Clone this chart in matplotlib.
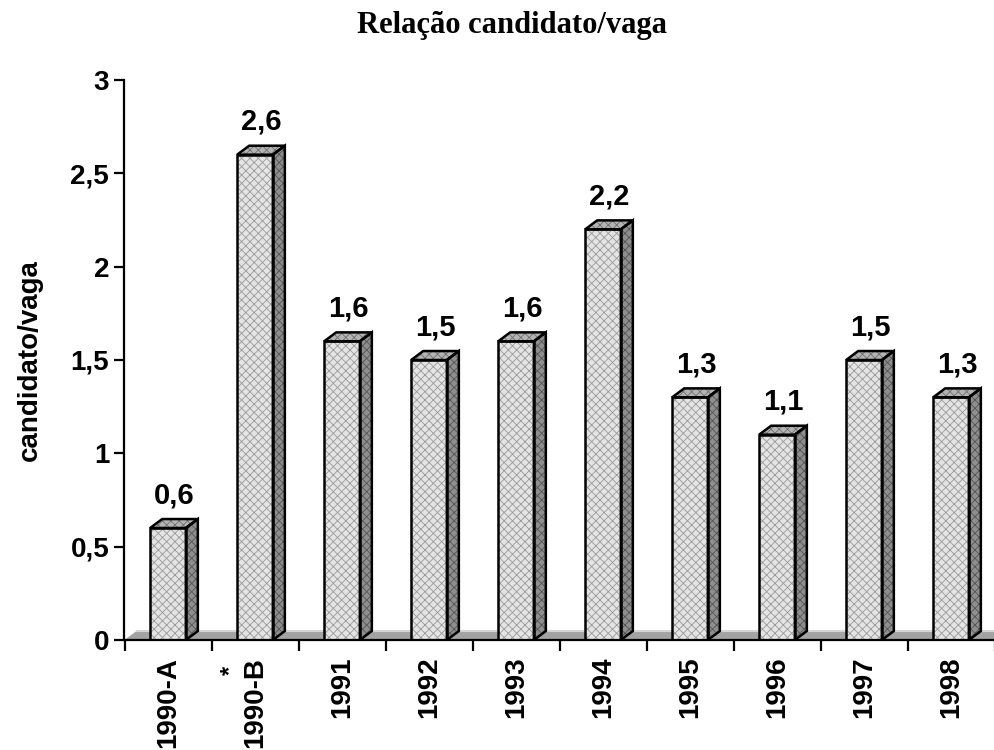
import numpy as np
import matplotlib
matplotlib.use('Agg')
import matplotlib.pyplot as plt
from matplotlib.patches import Polygon

years = ['1990-A', '1990-B', '1991', '1992', '1993', '1994', '1995', '1996', '1997', '1998']
ratios = [0.6, 2.6, 1.6, 1.5, 1.6, 2.2, 1.3, 1.1, 1.5, 1.3]
yticks = [0, 0.5, 1, 1.5, 2, 2.5, 3]

plt.rcParams['font.family'] = ['Liberation Sans', 'DejaVu Sans']
plt.rcParams['font.weight'] = 'bold'
plt.rcParams['hatch.linewidth'] = 0.6

fig = plt.figure(figsize=(9.94, 7.5), dpi=100)
ax = fig.add_axes([124.5 / 994, 110 / 750, 870 / 994, 560 / 750])
ax.set_xlim(-0.5, 9.5)
ax.set_ylim(0, 3)

# fake 3d depth of the bars and floor, in data units
dx = 0.138
dy = 0.048
w = 0.41

# floor
floor = Polygon([(-0.5, 0), (-0.5 + dx, dy), (9.5 + dx, dy), (9.5 + dx, 0)],
                closed=True, fc='#a3a3a3', ec='none', zorder=1)
ax.add_patch(floor)
ax.plot([-0.5 + dx, 9.5 + dx], [dy, dy], color='#d6d6d6', lw=1.5, zorder=1.5)

x = np.arange(len(years))
ax.bar(x, ratios, width=w, color='#e4e4e4', hatch='xxxx', edgecolor='#9a9a9a',
       linewidth=0, zorder=3)
ax.bar(x, ratios, width=w, fill=False, edgecolor='black', linewidth=1.8,
       joinstyle='miter', zorder=4)

for xi, v in zip(x, ratios):
    xl = xi - w / 2
    xr = xi + w / 2
    side = [(xr, 0), (xr + dx, dy), (xr + dx, v + dy), (xr, v)]
    top = [(xl, v), (xl + dx, v + dy), (xr + dx, v + dy), (xr, v)]
    ax.add_patch(Polygon(side, closed=True, fc='#8e8e8e', hatch='xxxx',
                         ec='#555555', lw=0, zorder=3))
    ax.add_patch(Polygon(side, closed=True, fill=False, ec='black', lw=1.8,
                         joinstyle='miter', zorder=4))
    ax.add_patch(Polygon(top, closed=True, fc='#b4b4b4', hatch='xxxx',
                         ec='#707070', lw=0, zorder=3))
    ax.add_patch(Polygon(top, closed=True, fill=False, ec='black', lw=1.8,
                         joinstyle='miter', zorder=4))
    ax.annotate(f'{v:.1f}'.replace('.', ','), xy=(xi + dx / 2, v),
                xytext=(0, 25), textcoords='offset pixels',
                ha='center', va='baseline', fontsize=21, fontweight='bold')

for s in ['top', 'right']:
    ax.spines[s].set_visible(False)
for s in ['left', 'bottom']:
    ax.spines[s].set_linewidth(1.6)
    ax.spines[s].set_zorder(5)

ax.set_xticks(x, years, rotation=90, fontsize=20, fontweight='bold')
ax.tick_params(axis='x', which='major', length=0, pad=12)
ax.set_xticks(np.arange(-0.5, len(years), 1), minor=True)
ax.tick_params(axis='x', which='minor', length=8, width=1.6, direction='out')

ax.set_yticks(yticks, [f'{t:g}'.replace('.', ',') for t in yticks],
              fontsize=20, fontweight='bold')
ax.tick_params(axis='y', length=7, width=1.6, direction='out', pad=4)

ax.set_ylabel('candidato/vaga', fontsize=20, fontweight='bold')
ax.yaxis.set_label_coords(-0.094, 0.5)

# asterisk marking the 1990-B entry
ax.annotate('*', xy=(1, 0), xycoords=('data', 'axes fraction'),
            xytext=(-25, -30), textcoords='offset pixels', rotation=90,
            ha='center', va='center', fontsize=17, fontweight='bold',
            annotation_clip=False)

fig.text(0.515, 1 - 33 / 750, 'Relação candidato/vaga', ha='center', va='baseline',
         fontsize=22, fontweight='bold', family='Liberation Serif')

fig.savefig('out.png', dpi=100)
